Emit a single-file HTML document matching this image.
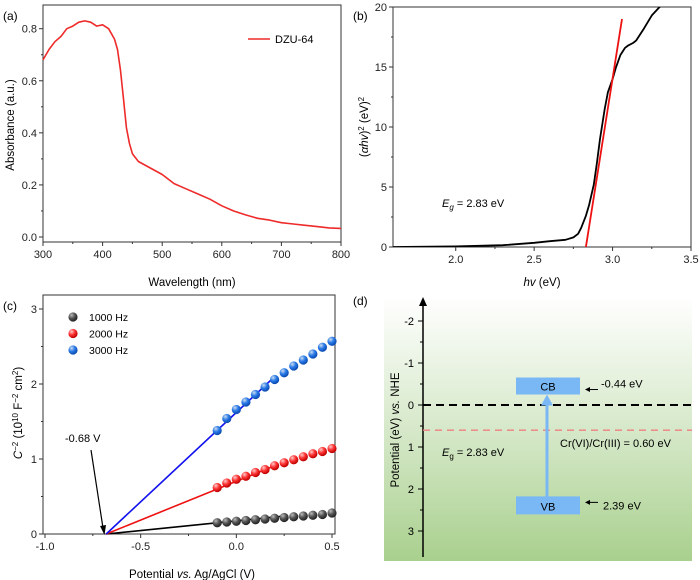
<!DOCTYPE html>
<html><head><meta charset="utf-8"><style>
html,body{margin:0;padding:0;background:#fff}
svg{display:block;font-family:"Liberation Sans",Arial,sans-serif}
</style></head><body>
<svg id="fig" width="700" height="580" viewBox="0 0 700 580" xmlns="http://www.w3.org/2000/svg">
<defs>
<radialGradient id="gk" cx="35%" cy="30%" r="70%"><stop offset="0" stop-color="#bbb"/><stop offset="0.5" stop-color="#555"/><stop offset="1" stop-color="#222"/></radialGradient>
<radialGradient id="gr" cx="35%" cy="30%" r="70%"><stop offset="0" stop-color="#fcc"/><stop offset="0.5" stop-color="#f33"/><stop offset="1" stop-color="#b00"/></radialGradient>
<radialGradient id="gb" cx="35%" cy="30%" r="70%"><stop offset="0" stop-color="#cde"/><stop offset="0.5" stop-color="#2a7ae8"/><stop offset="1" stop-color="#0a4ab0"/></radialGradient>
<linearGradient id="bgd" x1="0" y1="0" x2="0" y2="1"><stop offset="0" stop-color="#ffffff"/><stop offset="0.55" stop-color="#d2e6c4"/><stop offset="1" stop-color="#a9d08e"/></linearGradient>
<clipPath id="clipb"><rect x="393" y="7" width="298" height="240"/></clipPath>
</defs>
<g id="pa"></g>
<g id="pb"></g>
<g id="pc"></g>
<g id="pd"></g>
</svg>
<script>
// Panel a data
const aWavelength=[300,310,320,330,340,350,360,370,380,390,400,410,420,425,430,435,440,445,450,460,480,500,520,540,560,580,600,620,640,660,680,700,720,740,760,780,800];
const aAbs=[0.68,0.72,0.75,0.77,0.80,0.81,0.825,0.83,0.825,0.81,0.815,0.80,0.76,0.72,0.64,0.53,0.42,0.36,0.32,0.29,0.265,0.24,0.205,0.185,0.165,0.145,0.12,0.10,0.085,0.072,0.065,0.055,0.05,0.045,0.04,0.035,0.033];
const aXTicks=[300,400,500,600,700,800];
const aYTicks=[0.0,0.2,0.4,0.6,0.8];
// Panel b data
const bEnergy=[1.6,2.0,2.3,2.5,2.6,2.7,2.75,2.78,2.8,2.83,2.85,2.88,2.9,2.92,2.95,2.97,3.0,3.02,3.05,3.08,3.1,3.13,3.15,3.2,3.25,3.3,3.35];
const bTauc=[0,0.05,0.15,0.35,0.48,0.6,0.8,1.1,1.6,2.6,3.5,5.2,7,9,11.5,12.9,14,14.9,16,16.6,16.8,17.0,17.2,18.2,19.3,20,20.5];
const bFitX=[2.83,3.06];
const bFitY=[0,19];
const bXTicks=[2.0,2.5,3.0,3.5];
const bYTicks=[0,5,10,15,20];
// Panel c data
const cPotential=[-0.1,-0.05,0,0.05,0.1,0.15,0.2,0.25,0.3,0.35,0.4,0.45,0.5];
const c1000=[0.15,0.16,0.17,0.18,0.19,0.20,0.21,0.22,0.23,0.24,0.25,0.26,0.28];
const c2000=[0.62,0.68,0.73,0.77,0.82,0.86,0.91,0.95,0.99,1.03,1.07,1.10,1.14];
const c3000=[1.38,1.54,1.66,1.76,1.86,1.96,2.06,2.15,2.24,2.32,2.40,2.49,2.57];
const cFitEndX=[0.25,0.22,0.18];
const cFitEndY=[0.24,0.93,2.05];
const cXTicks=[-1.0,-0.5,0.0,0.5];
const cYTicks=[0,1,2,3];
// Panel d data
const dYTicks=[-2,-1,0,1,2,3];
const dCB=-0.44, dVB=2.39, dCr=0.60;

const NS="http://www.w3.org/2000/svg";
function mk(parent,tag,attrs,text){const e=document.createElementNS(NS,tag);for(const k in attrs)e.setAttribute(k,attrs[k]);if(text!==undefined)e.textContent=text;parent.appendChild(e);return e;}
function lin(d0,d1,r0,r1){return v=>r0+(v-d0)/(d1-d0)*(r1-r0);}
function fmt(v,dec){return v.toFixed(dec);}
function axes(g,x0,x1,y0,y1,xs,ys,xt,yt,xdec,ydec){
  const fr=mk(g,'rect',{x:x0,y:y0,width:x1-x0,height:y1-y0,fill:'none',stroke:'#333','stroke-width':1});
  
  xt.forEach(v=>{const x=xs(v);mk(g,'line',{x1:x,x2:x,y1:y1,y2:y1+4,stroke:'#333'});
    const t=mk(g,'text',{x:x,y:y1+16,'font-size':11,'text-anchor':'middle',fill:'#222'},fmt(v,xdec));
    });
  yt.forEach(v=>{const y=ys(v);mk(g,'line',{x1:x0-4,x2:x0,y1:y,y2:y,stroke:'#333'});
    const t=mk(g,'text',{x:x0-6,y:y+4,'font-size':11,'text-anchor':'end',fill:'#222'},fmt(v,ydec));
    });
  for(let i=0;i<xt.length-1;i++){const x=xs((xt[i]+xt[i+1])/2);mk(g,'line',{x1:x,x2:x,y1:y1,y2:y1+2,stroke:'#333'});}
  for(let i=0;i<yt.length-1;i++){const y=ys((yt[i]+yt[i+1])/2);mk(g,'line',{x1:x0-2,x2:x0,y1:y,y2:y,stroke:'#333'});}
}
function path(xsArr,ysArr,xs,ys){return xsArr.map((v,i)=>(i?'L':'M')+xs(v).toFixed(1)+','+ys(ysArr[i]).toFixed(1)).join('');}

// ---- Panel a
(function(){
const g=document.getElementById('pa');
const xs=lin(300,800,43,341), ys=lin(0,0.8,237,28.7);
axes(g,43,341,5,242,xs,ys,aXTicks,aYTicks,0,1);
const p=mk(g,'path',{d:path(aWavelength,aAbs,xs,ys),fill:'none',stroke:'#ee2a2a','stroke-width':1.6,'stroke-linejoin':'round'});

let t=mk(g,'text',{x:3,y:20,'font-size':12},'(a)');
mk(g,'line',{x1:248,x2:270,y1:39,y2:39,stroke:'#ee2a2a','stroke-width':1.6});
t=mk(g,'text',{x:275,y:43,'font-size':11},'DZU-64');
t=mk(g,'text',{x:192,y:286,'font-size':11.5,'text-anchor':'middle'},'Wavelength (nm)');
t=mk(g,'text',{x:0,y:0,'font-size':11.5,'text-anchor':'middle',transform:'translate(14,125) rotate(-90)'},'Absorbance (a.u.)');
})();

// ---- Panel b
(function(){
const g=document.getElementById('pb');
const xs=lin(1.6,3.5,393,691), ys=lin(0,20,247,7);
axes(g,393,691,7,247,xs,ys,bXTicks,bYTicks,1,0);
const c=mk(g,'g',{'clip-path':'url(#clipb)'});
const p=mk(c,'path',{d:path(bEnergy,bTauc,xs,ys),fill:'none',stroke:'#000','stroke-width':1.8,'stroke-linejoin':'round'});

const f=mk(g,'path',{d:path(bFitX,bFitY,xs,ys),fill:'none',stroke:'#ee1111','stroke-width':1.8});

let t=mk(g,'text',{x:353,y:20,'font-size':12},'(b)');
t=mk(g,'text',{x:442,y:207,'font-size':11},'');t.innerHTML='<tspan font-style="italic">E</tspan><tspan font-size="8" dy="3" font-style="italic">g</tspan><tspan dy="-3"> = 2.83 eV</tspan>';

t=mk(g,'text',{x:542,y:286,'font-size':11.5,'text-anchor':'middle'},'');t.innerHTML='<tspan font-style="italic">hv</tspan> (eV)';

t=mk(g,'text',{x:0,y:0,'font-size':11.5,'text-anchor':'middle',transform:'translate(368,127) rotate(-90)'},'');
t.innerHTML='(<tspan font-style="italic">αhv</tspan>)<tspan font-size="8" dy="-4">2</tspan><tspan dy="4"> (eV)</tspan><tspan font-size="8" dy="-4">2</tspan>';

})();

// ---- Panel c
(function(){
const g=document.getElementById('pc');
const xs=lin(-1.0,0.5,45,332), ys=lin(0,3,534,309);
axes(g,43,335,295,534,xs,ys,cXTicks,cYTicks,1,0);
const cols=['#000','#ee1111','#1111ee'];
cFitEndX.forEach((ex,i)=>{const l=mk(g,'line',{x1:xs(-0.68),y1:ys(0),x2:xs(ex),y2:ys(cFitEndY[i]),stroke:cols[i],'stroke-width':1.6});
  });
[[c1000,'gk'],[c2000,'gr'],[c3000,'gb']].forEach(([arr,gid])=>{
  arr.forEach((v,i)=>{const m=mk(g,'circle',{cx:xs(cPotential[i]),cy:ys(v),r:4.6,fill:'url(#'+gid+')'});
    });});
const labs=['1000 Hz','2000 Hz','3000 Hz'],gids=['gk','gr','gb'];
labs.forEach((s,i)=>{mk(g,'circle',{cx:73,cy:317+i*16.5,r:4.6,fill:'url(#'+gids[i]+')'});
  const t=mk(g,'text',{x:89,y:321+i*16.5,'font-size':10.5},s);});
let t=mk(g,'text',{x:3,y:310,'font-size':12},'(c)');
t=mk(g,'text',{x:65,y:442,'font-size':11},'-0.68 V');
mk(g,'line',{x1:91,y1:450,x2:103,y2:528,stroke:'#000','stroke-width':1.2});
mk(g,'path',{d:'M104.5,535 L100,526 L106,525 Z',fill:'#000'});
t=mk(g,'text',{x:192,y:578,'font-size':11.5,'text-anchor':'middle'},'');t.innerHTML='Potential <tspan font-style="italic">vs.</tspan> Ag/AgCl (V)';

t=mk(g,'text',{x:0,y:0,'font-size':11.5,'text-anchor':'middle',transform:'translate(22,413) rotate(-90)'},'');
t.innerHTML='<tspan font-style="italic">C</tspan><tspan font-size="8" dy="-4">−2</tspan><tspan dy="4"> (10</tspan><tspan font-size="8" dy="-4">10</tspan><tspan dy="4"> F</tspan><tspan font-size="8" dy="-4">−2</tspan><tspan dy="4"> cm</tspan><tspan font-size="8" dy="-4">2</tspan><tspan dy="4">)</tspan>';

})();

// ---- Panel d
(function(){
const g=document.getElementById('pd');
const ys=lin(0,1,405,447);
const bg=mk(g,'rect',{x:384,y:297,width:308,height:264,fill:'url(#bgd)'});

const ax=mk(g,'line',{x1:423,x2:423,y1:304,y2:557,stroke:'#000','stroke-width':1.5});

mk(g,'path',{d:'M423,297 L419,306 L427,306 Z',fill:'#000'});
dYTicks.forEach(v=>{const y=ys(v);mk(g,'line',{x1:418,x2:423,y1:y,y2:y,stroke:'#000'});
  const t=mk(g,'text',{x:414,y:y+4,'font-size':11,'text-anchor':'end'},String(v));});
dYTicks.slice(0,-1).forEach(v=>{const y=ys(v+0.5);mk(g,'line',{x1:420,x2:423,y1:y,y2:y,stroke:'#000'});});
let l=mk(g,'line',{x1:423,x2:692,y1:ys(0),y2:ys(0),stroke:'#000','stroke-width':2,'stroke-dasharray':'8,5'});

l=mk(g,'line',{x1:423,x2:692,y1:ys(dCr),y2:ys(dCr),stroke:'#f08080','stroke-width':1.3,'stroke-dasharray':'7,5'});

const cbY=ys(dCB), vbY=ys(dVB);
mk(g,'line',{x1:547,x2:547,y1:vbY-8,y2:cbY+16,stroke:'#7ab8f5','stroke-width':3});
mk(g,'path',{d:`M547,${cbY+8} L541,${cbY+19} L553,${cbY+19} Z`,fill:'#7ab8f5'});
let r=mk(g,'rect',{x:516,y:cbY-9,width:64,height:17,fill:'#7ab8f5'});
mk(g,'text',{x:548,y:cbY+4,'font-size':11,'text-anchor':'middle'},'CB');
r=mk(g,'rect',{x:516,y:vbY-9,width:64,height:18,fill:'#7ab8f5'});
mk(g,'text',{x:548,y:vbY+5,'font-size':11,'text-anchor':'middle'},'VB');
mk(g,'line',{x1:588,x2:598,y1:cbY+3,y2:cbY+3,stroke:'#000'});mk(g,'path',{d:`M585,${cbY+3} L590,${cbY+0.5} L590,${cbY+5.5} Z`,fill:'#000'});
mk(g,'line',{x1:588,x2:598,y1:vbY-3,y2:vbY-3,stroke:'#000'});mk(g,'path',{d:`M585,${vbY-3} L590,${vbY-5.5} L590,${vbY-0.5} Z`,fill:'#000'});
let t=mk(g,'text',{x:601,y:cbY+1,'font-size':11},'-0.44 eV');
t=mk(g,'text',{x:603,y:vbY+4,'font-size':11},'2.39 eV');
t=mk(g,'text',{x:560,y:447,'font-size':11},'Cr(VI)/Cr(III) = 0.60 eV');
t=mk(g,'text',{x:442,y:456,'font-size':11},'');t.innerHTML='<tspan font-style="italic">E</tspan><tspan font-size="8" dy="3">g</tspan><tspan dy="-3"> = 2.83 eV</tspan>';

t=mk(g,'text',{x:353,y:305,'font-size':12},'(d)');
t=mk(g,'text',{x:0,y:0,'font-size':11.5,'text-anchor':'middle',transform:'translate(399,430) rotate(-90)'},'');t.innerHTML='Potential (eV) <tspan font-style="italic">vs.</tspan> NHE';

})();
</script>
</body></html>
